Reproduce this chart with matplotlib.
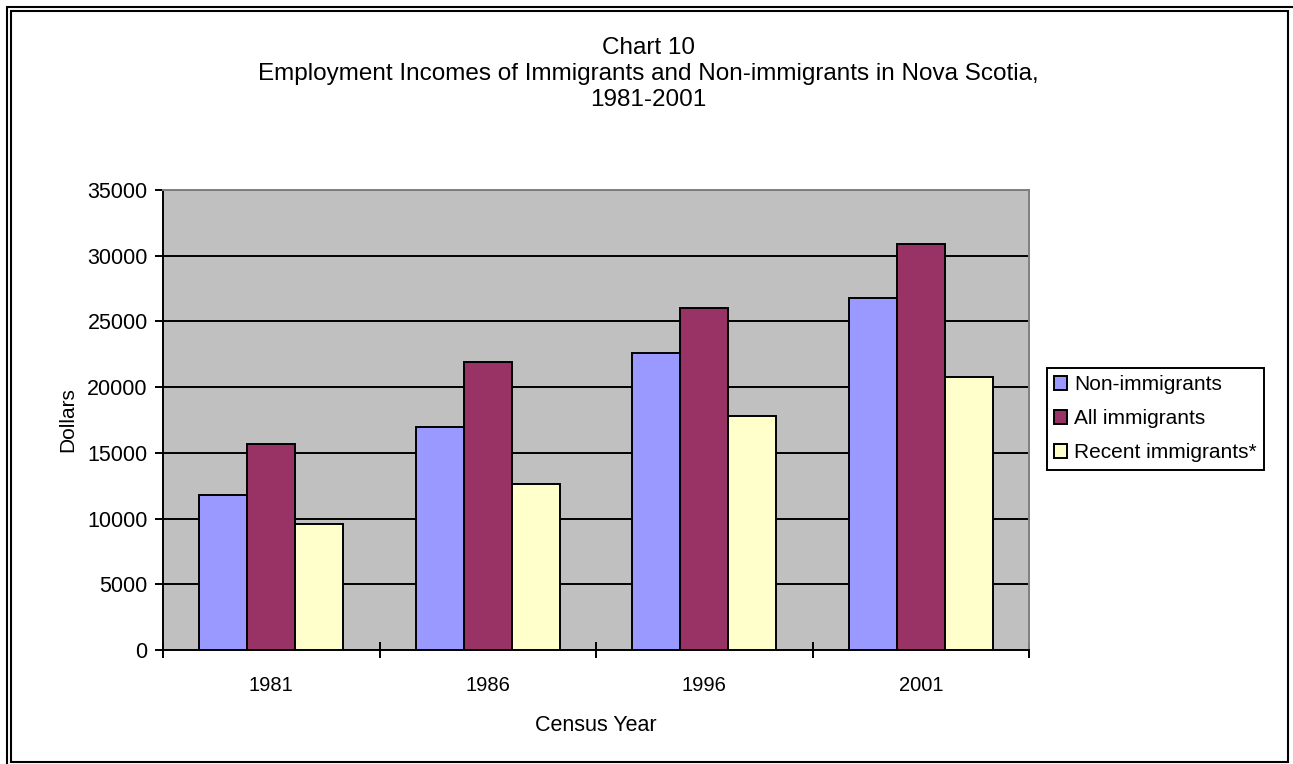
import matplotlib
matplotlib.use("Agg")
import matplotlib.pyplot as plt
import numpy as np
from matplotlib.lines import Line2D
from matplotlib.patches import Rectangle

plt.rcParams['font.family'] = ['Liberation Sans', 'DejaVu Sans']

years = ['1981', '1986', '1996', '2001']
series = ['Non-immigrants', 'All immigrants', 'Recent immigrants*']
non_immigrants = [11800, 17000, 22600, 26800]
all_immigrants = [15700, 21900, 26000, 30900]
recent_immigrants = [9600, 12600, 17800, 20800]
colors = ['#9999FF', '#993366', '#FFFFCC']

W, H = 1293, 764
fig = plt.figure(figsize=(W / 100, H / 100), dpi=100)
ax = fig.add_axes([163 / W, 1 - 650 / H, (1029 - 163) / W, (650 - 190) / H])
ax.set_facecolor('#C0C0C0')

x = np.arange(len(years))
width = 1 / 4.5
for i, (vals, name) in enumerate(zip([non_immigrants, all_immigrants, recent_immigrants], series)):
    ax.bar(x + (i - 1) * width, vals, width, color=colors[i], edgecolor='black',
           linewidth=1.4, label=name, zorder=3)

ax.set_xlim(-0.5, len(years) - 0.5)
ax.set_ylim(0, 35000)
ax.set_yticks(np.arange(0, 35001, 5000))
ax.yaxis.grid(True, color='black', linewidth=1.4, zorder=1)
ax.set_axisbelow(True)

# year labels sit between the tick marks, ticks mark the category edges
ax.set_xticks(x)
ax.set_xticklabels(years, fontsize=14.5)
ax.set_xticks(np.arange(-0.5, len(years), 1), minor=True)
ax.tick_params(axis='x', which='major', length=0, pad=19)
ax.tick_params(axis='x', which='minor', direction='inout', length=11, width=1.4)
ax.tick_params(axis='y', direction='out', length=6, width=1.4, labelsize=15.5, pad=5)

for side in ['left', 'bottom']:
    ax.spines[side].set_color('black')
    ax.spines[side].set_linewidth(1.4)
for side in ['top', 'right']:
    ax.spines[side].set_color('#808080')
    ax.spines[side].set_linewidth(1.4)

ax.set_ylabel('Dollars', fontsize=15, labelpad=7)
ax.set_xlabel('Census Year', fontsize=15.5, labelpad=14)

title_lines = ['Chart 10',
               'Employment Incomes of Immigrants and Non-immigrants in Nova Scotia,',
               '1981-2001']
for row, line in enumerate(title_lines):
    fig.text(648 / W, 1 - (48 + 26 * row) / H, line, ha='center', va='center', fontsize=17.5)

leg = ax.legend(loc='upper left', bbox_to_anchor=(1047 / W, 1 - 368 / H), bbox_transform=fig.transFigure,
                borderaxespad=0, fancybox=False, edgecolor='black', framealpha=1, fontsize=15,
                handlelength=0.6, handleheight=0.6, handletextpad=0.35, labelspacing=0.72,
                borderpad=0.35)
leg.get_frame().set_linewidth(1.4)

# double frame round the whole figure
def px_line(xs, ys, lw):
    fig.add_artist(Line2D([v / W for v in xs], [1 - v / H for v in ys], color='black',
                          linewidth=lw, transform=fig.transFigure, solid_capstyle='butt'))

px_line([6, W], [6.5, 6.5], 1.5)
px_line([6.5, 6.5], [6, H], 1.5)
fig.add_artist(Rectangle((11 / W, 1 - 762 / H), (1288 - 11) / W, (762 - 11) / H, fill=False,
                         edgecolor='black', linewidth=1.5, transform=fig.transFigure))

fig.savefig('out.png', dpi=100)
